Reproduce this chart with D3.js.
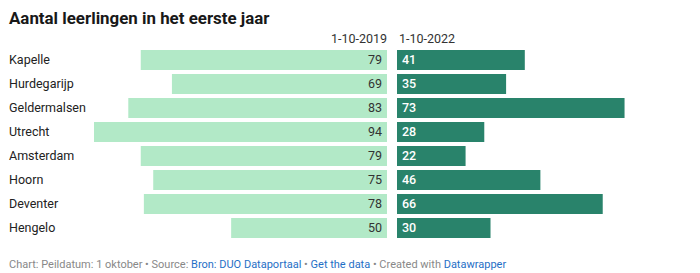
<!DOCTYPE html>
<html>
<head>
<meta charset="utf-8">
<script src="https://cdn.jsdelivr.net/npm/d3@7"></script>
<style>
  body { margin: 0; background: #fff; }
  svg text { font-family: Roboto, "Noto Sans", sans-serif; }
</style>
</head>
<body>
<div id="chart"></div>
<script>
// Aantal leerlingen in het eerste jaar: two split bar columns per location

const categories = ['Kapelle', 'Hurdegarijp', 'Geldermalsen', 'Utrecht', 'Amsterdam', 'Hoorn', 'Deventer', 'Hengelo'];
const values2019 = [79, 69, 83, 94, 79, 75, 78, 50];
const values2022 = [41, 35, 73, 28, 22, 46, 66, 30];
const columnLabels = ['1-10-2019', '1-10-2022'];

const W = 700, H = 273;
const LIGHT = '#b2e9c7';
const DARK = '#29836b';
const LINK = '#1f6fc6';

const svg = d3.select('#chart').append('svg')
  .attr('width', W).attr('height', H);

// Title
svg.append('text')
  .attr('x', 9).attr('y', 24)
  .attr('font-size', '16.9px').attr('font-weight', 700)
  .attr('fill', '#181818')
  .text('Aantal leerlingen in het eerste jaar');

const y = d3.scaleBand()
  .domain(categories)
  .range([48, 240])
  .paddingInner(4 / 24).paddingOuter(2 / 24);

const maxVal = d3.max([...values2019, ...values2022]);
const w = d3.scaleLinear().domain([0, maxVal]).range([0, 293]);

const leftEnd = 387;
const rightStart = 397;

// column headers
svg.append('text')
  .attr('x', leftEnd).attr('y', 43)
  .attr('text-anchor', 'end')
  .attr('font-size', '12.5px').attr('fill', '#333')
  .text(columnLabels[0]);
svg.append('text')
  .attr('x', rightStart + 2).attr('y', 43)
  .attr('font-size', '12.5px').attr('fill', '#333')
  .text(columnLabels[1]);

const rows = svg.selectAll('g.row')
  .data(categories.map((c, i) => ({ c, a: values2019[i], b: values2022[i] })))
  .join('g').attr('class', 'row');

// category labels
rows.append('text')
  .attr('x', 9)
  .attr('y', d => y(d.c) + y.bandwidth() / 2)
  .attr('dy', '0.35em')
  .attr('font-size', '12.5px').attr('fill', '#222')
  .text(d => d.c);

// 2019 bars, right-aligned
rows.append('rect')
  .attr('x', d => leftEnd - w(d.a))
  .attr('y', d => y(d.c))
  .attr('width', d => w(d.a))
  .attr('height', y.bandwidth())
  .attr('fill', LIGHT);

rows.append('text')
  .attr('x', leftEnd - 5)
  .attr('y', d => y(d.c) + y.bandwidth() / 2)
  .attr('dy', '0.35em')
  .attr('text-anchor', 'end')
  .attr('font-size', '12.5px').attr('fill', '#333')
  .text(d => d.a);

// 2022 bars
rows.append('rect')
  .attr('x', rightStart)
  .attr('y', d => y(d.c))
  .attr('width', d => w(d.b))
  .attr('height', y.bandwidth())
  .attr('fill', DARK);

rows.append('text')
  .attr('x', rightStart + 5)
  .attr('y', d => y(d.c) + y.bandwidth() / 2)
  .attr('dy', '0.35em')
  .attr('font-size', '12.5px').attr('font-weight', 500).attr('fill', '#fff')
  .text(d => d.b);

// footer
const foot = svg.append('text')
  .attr('x', 9).attr('y', 268)
  .attr('font-size', '11px').attr('fill', '#888');
[['Chart: Peildatum: 1 oktober • Source: ', '#888'],
 ['Bron: DUO Dataportaal', LINK],
 [' • ', '#888'],
 ['Get the data', LINK],
 [' • Created with ', '#888'],
 ['Datawrapper', LINK]].forEach(([t, col]) => {
  foot.append('tspan').attr('fill', col).text(t);
});
</script>
</body>
</html>
